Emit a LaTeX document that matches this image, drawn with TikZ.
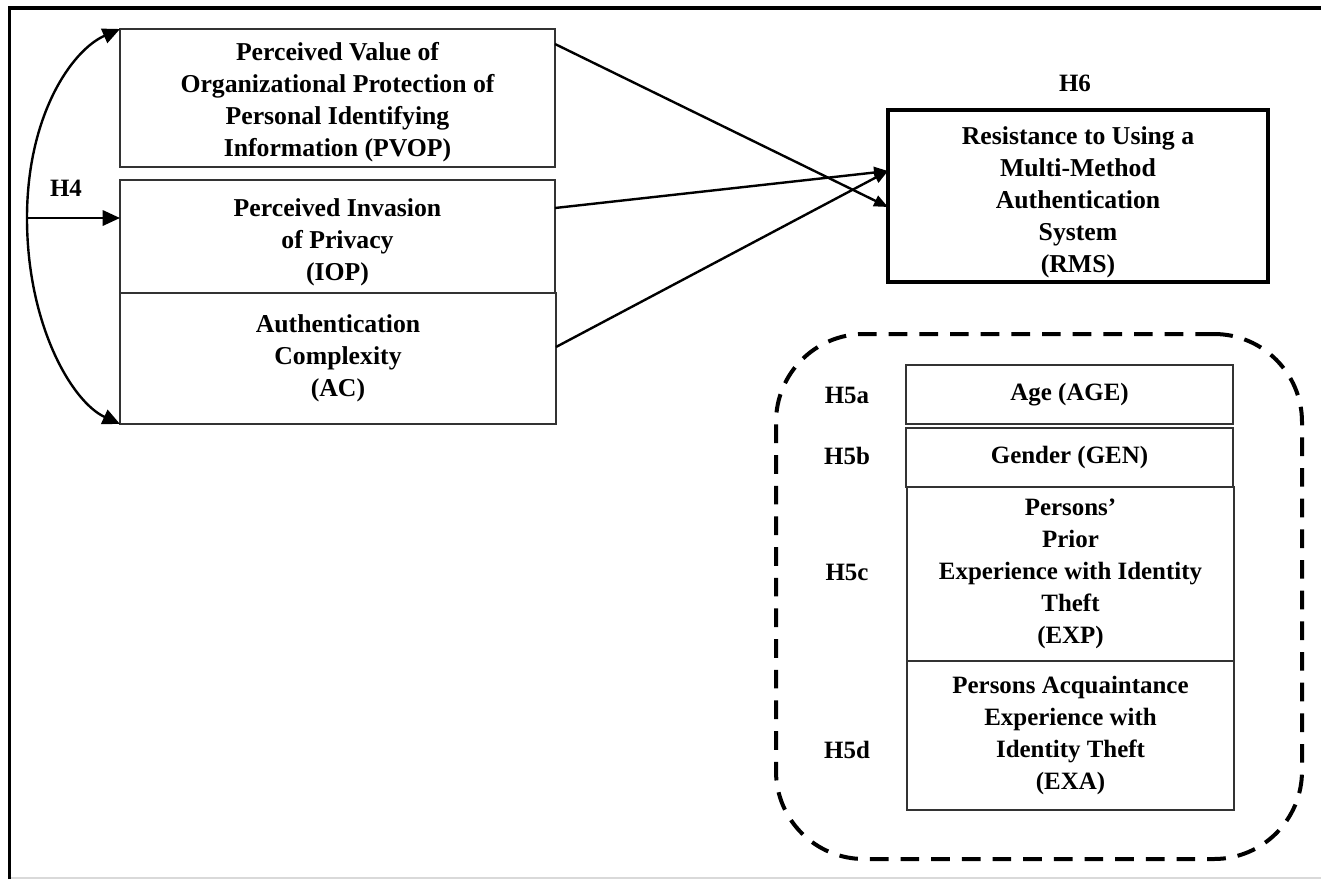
\documentclass[tikz,border=0pt]{standalone}
\usepackage{fontspec}
\setmainfont{Liberation Serif}
\usetikzlibrary{arrows.meta,calc}
\newcommand{\lowerby}[1]{\rule{0pt}{\dimexpr 13.5pt+#1\relax}}
\tikzset{
  box/.style={draw=black!80, line width=1.3pt, inner sep=0pt, outer sep=0pt, align=center,
    rectangle, font=\bfseries\fontsize{19.3}{24}\selectfont},
  rbox/.style={box, font=\bfseries\fontsize{18.7}{24}\selectfont},
  heavybox/.style={box, draw=black, line width=3pt},
  lbl/.style={font=\bfseries\fontsize{18.7}{24}\selectfont, inner sep=0pt},
  conn/.style={line width=1.8pt, -{Triangle[length=10.5pt,width=8.5pt]}},
  h4arrow/.style={line width=1.8pt, -{Triangle[length=13pt,width=11.5pt]}},
  group/.style={draw, line width=3pt, dash pattern=on 14pt off 9pt, rounded corners=66pt,
    inner sep=0pt, rectangle},
}
\begin{document}
\begin{tikzpicture}[x=0.75pt,y=-0.75pt]
\useasboundingbox (0,0) rectangle (1321,879);
% frame
\draw[black!15, line width=1pt] (10,878) -- (1321,878);
\draw[line width=2.6pt] (9.5,879) -- (9.5,8) -- (1321,8);

% left boxes
\node[box, minimum width=326.25pt, minimum height=103.5pt] (pvop) at (337.5,98)
  {\lowerby{7pt}Perceived Value of\\Organizational Protection of\\Personal Identifying\\Information (PVOP)};
\node[box, minimum width=326.25pt, minimum height=84.75pt] (iop) at (337.5,236.5)
  {\lowerby{8pt}Perceived Invasion\\of Privacy\\(IOP)};
\node[box, minimum width=327pt, minimum height=98.25pt] (ac) at (338,358.5)
  {Authentication\\Complexity\\(AC)};

% H4
\node[lbl] (h4) at (66,188) {H4};
\coordinate (h4c) at (27,218);
\draw[h4arrow] (h4c) .. controls (27,115) and (72,50) .. (pvop.north west);
\draw[h4arrow] (h4c) .. controls (27,325) and (72,402) .. (ac.south west);
\draw[h4arrow] (h4c) -- (h4c -| iop.west);

% RMS
\node[lbl] (h6) at (1075,83) {H6};
\node[heavybox, minimum width=285pt, minimum height=129pt] (rms) at (1078,196)
  {\lowerby{9pt}Resistance to Using a\\Multi-Method\\Authentication\\System\\(RMS)};

\draw[conn] ($(pvop.north east)+(0,15)$) -- ($(rms.north west)+(0,97)$);
\draw[conn] ($(iop.north east)+(0,28)$) -- ($(rms.north west)+(0,61)$);
\draw[conn] ($(ac.north east)+(0,54)$) -- ($(rms.north west)+(0,61)$);

% moderators
\node[group, minimum width=394.5pt, minimum height=393.75pt] (grp) at (1039,596.5) {};
\node[rbox, minimum width=245.25pt, minimum height=44.25pt] (age) at (1069.5,394.5) {Age (AGE)};
\node[rbox, minimum width=245.25pt, minimum height=44.25pt] (gen) at (1069.5,457.5) {Gender (GEN)};
\node[rbox, minimum width=245.25pt, minimum height=130.5pt] (exp) at (1070.5,574)
  {Persons’\\Prior\\Experience with Identity\\Theft\\(EXP)};
\node[rbox, minimum width=245.25pt, minimum height=111.75pt] (exa) at (1070.5,735.5)
  {Persons Acquaintance\\Experience with\\Identity Theft\\(EXA)};
\node[lbl] (h5a) at (847,395) {H5a};
\node[lbl] (h5b) at (847,456) {H5b};
\node[lbl] (h5c) at (847,572) {H5c};
\node[lbl] (h5d) at (847,750) {H5d};
\end{tikzpicture}
\end{document}
